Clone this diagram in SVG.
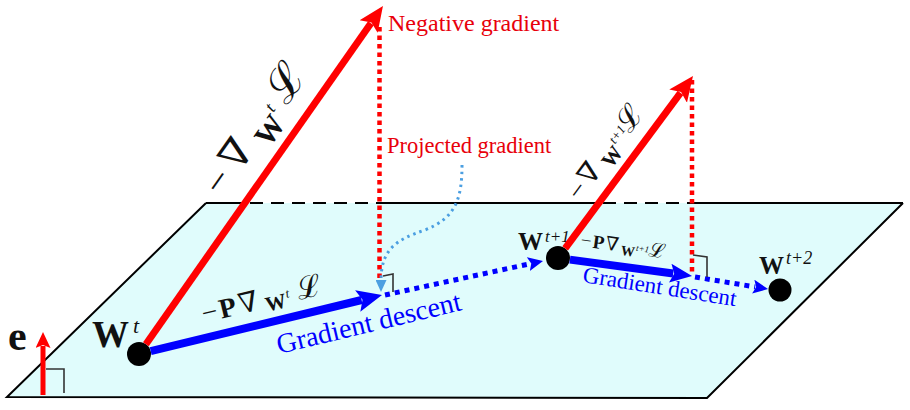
<svg xmlns="http://www.w3.org/2000/svg" width="910" height="410" viewBox="0 0 910 410">
<defs>
<style>
.serif{font-family:'Liberation Serif','DejaVu Serif',serif;}
.math{font-family:'Liberation Serif','DejaVu Serif',serif;fill:#111;}
.bold{font-weight:bold;}
.it{font-style:italic;}
.redtxt{fill:#e8000b;}
.bluetxt{fill:#0000ff;}
.edge{fill:none;stroke:#000;stroke-width:2;}
.dash{fill:none;stroke:#000;stroke-width:2;stroke-dasharray:13 8;}
.redArrow{stroke:#ff0000;stroke-width:7;fill:none;}
.blueArrow{stroke:#0000ff;stroke-width:8;fill:none;}
.redDot{stroke:#ff0000;stroke-width:4.5;stroke-dasharray:4.5 4;fill:none;}
.blueDot{stroke:#0000ff;stroke-width:5;stroke-dasharray:5 5;fill:none;}
.proj{stroke:#4b9fe1;stroke-width:3;stroke-dasharray:2.5 4;fill:none;}
.perp{stroke:#333;stroke-width:1.6;fill:none;}
.node{fill:#000;}
</style>
<marker id="hRed" markerUnits="userSpaceOnUse" markerWidth="26" markerHeight="24" viewBox="0 0 26 24" refX="4" refY="12" orient="auto"><path d="M0,1 L25,12 L0,23 L5,12 z" fill="#ff0000"/></marker>
<marker id="hBlue" markerUnits="userSpaceOnUse" markerWidth="26" markerHeight="24" viewBox="0 0 26 24" refX="4" refY="12" orient="auto"><path d="M0,1 L25,12 L0,23 L5,12 z" fill="#0000ff"/></marker>
<marker id="hBlue2" markerUnits="userSpaceOnUse" markerWidth="23" markerHeight="21" viewBox="0 0 23 21" refX="3" refY="10.5" orient="auto"><path d="M0,1 L22,10.5 L0,20 L4,10.5 z" fill="#0000ff"/></marker>
<marker id="hBlueS" markerUnits="userSpaceOnUse" markerWidth="16" markerHeight="14" viewBox="0 0 16 14" refX="2" refY="7" orient="auto"><path d="M0,0 L15,7 L0,14 L3,7 z" fill="#0000ff"/></marker>
<marker id="hRedS" markerUnits="userSpaceOnUse" markerWidth="17" markerHeight="15" viewBox="0 0 17 15" refX="2" refY="7.5" orient="auto"><path d="M0,0 L16,7.5 L0,15 L3,7.5 z" fill="#ff0000"/></marker>
<marker id="hProj" markerUnits="userSpaceOnUse" markerWidth="13" markerHeight="11" viewBox="0 0 13 11" refX="1" refY="5.5" orient="auto"><path d="M0,0 L12,5.5 L0,11 z" fill="#4b9fe1"/></marker>
</defs>

<g id="plane">
<polygon points="7,397 206,203 903,203 707,398" fill="#e0fcfc"/>
<polyline class="edge" points="206,203 7,397 707,398 903,203"/>
<line class="edge" x1="206" y1="203" x2="248" y2="203"/>
<line class="dash" x1="250" y1="203" x2="380" y2="203"/>
<line class="edge" x1="380" y1="203" x2="600" y2="203"/>
<line class="dash" x1="603" y1="203" x2="692" y2="203"/>
<line class="edge" x1="692" y1="203" x2="903" y2="203"/>
</g>

<g id="normal-e">
<text class="math bold" x="8" y="350" font-size="42">e</text>
<line x1="43" y1="395" x2="43" y2="346" stroke="#ff0000" stroke-width="5" marker-end="url(#hRedS)"/>
<polyline class="perp" points="46,369 64,369 64,393"/>
</g>

<g id="node-wt">
<circle class="node" cx="139" cy="354" r="12"/>
<text class="math" x="92" y="347"><tspan class="bold" font-size="37">W</tspan><tspan class="it" x="133" y="333" font-size="22">t</tspan></text>
</g>

<g id="node-wt1">
<circle class="node" cx="558" cy="258" r="12"/>
<text class="math" x="518" y="250"><tspan class="bold" font-size="25">W</tspan><tspan class="it" x="545" y="242" font-size="17">t+1</tspan></text>
</g>

<g id="node-wt2">
<circle class="node" cx="780" cy="290" r="11.5"/>
<text class="math" x="759" y="274"><tspan class="bold" font-size="25">W</tspan><tspan class="it" x="786" y="264" font-size="18">t+2</tspan></text>
</g>

<g id="texts">
<text class="serif redtxt" x="388" y="31" font-size="24">Negative gradient</text>
<text class="serif redtxt" x="387" y="153" font-size="22.5">Projected gradient</text>
<text class="serif bluetxt" transform="translate(279,354) rotate(-13.5)" font-size="28">Gradient descent</text>
<text class="serif bluetxt" transform="translate(582,282) rotate(9)" font-size="23">Gradient descent</text>
</g>

<g id="connectors">
<line class="redDot" x1="379.5" y1="27" x2="379.5" y2="283"/>
<line class="redDot" x1="692" y1="80" x2="692" y2="274"/>
<line class="redArrow" x1="145.9" y1="344.2" x2="370.9" y2="23.2" marker-end="url(#hRed)"/>
<line class="redArrow" x1="565.2" y1="248.4" x2="680.5" y2="92.9" marker-end="url(#hRed)"/>
<line class="blueArrow" x1="150.7" y1="351.2" x2="361.6" y2="300" marker-end="url(#hBlue)"/>
<line class="blueArrow" x1="569.9" y1="259.6" x2="673.2" y2="273.5" stroke-width="7" marker-end="url(#hBlue2)"/>
<line class="blueDot" x1="385" y1="295" x2="530.3" y2="263.7" marker-end="url(#hBlueS)"/>
<line class="blueDot" x1="695" y1="277" x2="755.2" y2="286.9" marker-end="url(#hBlueS)"/>
<path class="proj" d="M462,165 C462,200 455,218 425,230 C395,240 381,250 381,281" marker-end="url(#hProj)"/>
<polyline class="perp" points="383,276 393,274 393,292"/>
<polyline class="perp" points="693,255 707,257 707,277"/>
</g>

<g id="edge-labels">
<text class="math" transform="translate(222,198) rotate(-54.8)" font-size="40"><tspan x="0" y="0">−</tspan><tspan x="30" y="0">∇</tspan><tspan class="bold" x="68" y="10" font-size="30">W</tspan><tspan class="it" x="99" y="-7" font-size="18">t</tspan><tspan x="113" y="0" font-size="44">ℒ</tspan></text>
<text class="math" transform="translate(580,202) rotate(-53.6)" font-size="28"><tspan x="0" y="0">−</tspan><tspan x="19" y="0">∇</tspan><tspan class="bold" x="45" y="6" font-size="21">W</tspan><tspan class="it" x="67" y="-6" font-size="13">t+1</tspan><tspan x="84" y="0" font-size="30">ℒ</tspan></text>
<text class="math" transform="translate(204,323) rotate(-13.6)" font-size="28"><tspan x="0" y="0">−</tspan><tspan class="bold" x="18" y="0">P</tspan><tspan x="38" y="0">∇</tspan><tspan class="bold" x="64" y="4" font-size="21">W</tspan><tspan class="it" x="86" y="-5" font-size="13">t</tspan><tspan x="98" y="0" font-size="30">ℒ</tspan></text>
<text class="math" transform="translate(580,246) rotate(8)" font-size="19"><tspan x="0" y="0">−</tspan><tspan class="bold" x="12" y="0">P</tspan><tspan x="25" y="0">∇</tspan><tspan class="bold" x="41" y="3" font-size="14">W</tspan><tspan class="it" x="56" y="-3" font-size="9">t+1</tspan><tspan x="69" y="0" font-size="20">ℒ</tspan></text>
</g>
</svg>
